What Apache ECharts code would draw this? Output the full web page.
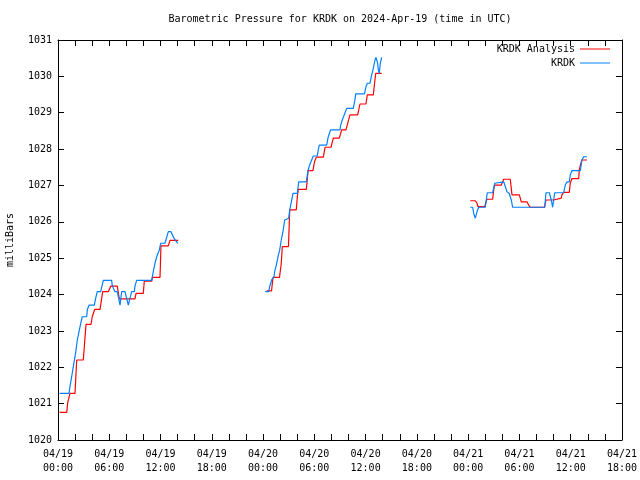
<!DOCTYPE html>
<html><head><meta charset="utf-8">
<script src="https://cdn.jsdelivr.net/npm/echarts@6/dist/echarts.min.js"></script>
<style>html,body{margin:0;padding:0;background:#fff}#c{width:640px;height:480px}</style>
</head><body><div id="c"></div>
<script>
const chartTitle = 'Barometric Pressure for KRDK on 2024-Apr-19 (time in UTC)';
const yAxisTitle = 'milliBars';
const seriesNames = ['KRDK Analysis', 'KRDK'];
// hours since 04/19 00:00 UTC
const xTickLabels = ['04/19\n00:00','04/19\n06:00','04/19\n12:00','04/19\n18:00',
  '04/20\n00:00','04/20\n06:00','04/20\n12:00','04/20\n18:00',
  '04/21\n00:00','04/21\n06:00','04/21\n12:00','04/21\n18:00'];
const yTickMin = 1020, yTickMax = 1031;

const analysisTimes = [
  0.18,1.02,1.14,1.29,1.40,1.99,2.19,2.96,3.28,3.86,4.01,4.18,4.29,4.92,5.23,5.89,6.17,6.94,7.17,9.01,9.13,9.98,10.10,10.97,11.04,11.94,12.05,12.91,13.11,14.08,
  20,
  24.42,24.99,25.16,25.92,26.13,26.25,26.97,27.12,27.89,28.01,28.12,29.06,29.17,29.26,29.84,30.02,30.23,31.05,31.25,31.95,32.22,32.92,33.20,33.70,34.17,35.07,35.34,36.04,36.20,36.90,37.04,37.18,37.88,
  44,
  48.25,48.84,49.04,49.15,49.94,50.09,50.21,50.87,50.99,51.11,51.88,52.04,52.16,52.93,53.05,53.13,53.99,54.10,54.22,54.89,55.08,55.27,56.96,57.03,57.11,58.01,58.20,58.90,58.98,59.18,59.84,59.95,60.15,60.94,61.01,61.17,61.32,61.91
];
const analysisValues = [
  1020.76,1020.76,1021.03,1021.03,1021.28,1021.28,1022.20,1022.20,1023.18,1023.18,1023.39,1023.39,1023.59,1023.59,1024.08,1024.08,1024.23,1024.23,1023.88,1023.88,1024.03,1024.03,1024.37,1024.37,1024.47,1024.47,1025.34,1025.34,1025.49,1025.49,
  null,
  1024.10,1024.10,1024.47,1024.47,1024.86,1025.32,1025.32,1026.33,1026.33,1026.69,1026.89,1026.89,1027.15,1027.41,1027.41,1027.65,1027.78,1027.78,1028.05,1028.05,1028.30,1028.30,1028.53,1028.53,1028.94,1028.94,1029.24,1029.24,1029.49,1029.49,1029.79,1030.08,1030.08,
  null,
  1026.58,1026.58,1026.51,1026.42,1026.42,1026.55,1026.62,1026.62,1026.88,1027.01,1027.01,1027.10,1027.17,1027.17,1026.92,1026.74,1026.74,1026.65,1026.55,1026.55,1026.46,1026.40,1026.40,1026.51,1026.60,1026.60,1026.65,1026.65,1026.74,1026.81,1026.81,1027.06,1027.19,1027.19,1027.43,1027.59,1027.70,1027.70
];
const obsTimes = [
  0.18,1.29,1.40,1.60,1.79,1.99,2.11,2.26,2.46,2.66,2.84,3.36,3.43,3.63,4.25,4.41,4.60,5.00,5.30,6.28,6.35,6.55,6.67,6.94,7.26,7.45,7.84,8.23,8.62,8.93,9.01,9.21,10.97,11.15,11.35,11.55,11.85,12.02,12.52,12.91,13.22,13.57,14.01,
  20,
  24.26,24.66,24.77,25.04,25.28,25.36,25.55,25.75,25.94,26.13,26.33,26.53,26.60,27.00,27.12,27.31,27.50,28.01,28.17,29.06,29.26,29.45,29.88,30.34,30.46,30.58,31.44,31.63,31.91,33.00,33.08,33.27,33.50,33.79,34.56,34.75,34.84,35.87,36.04,36.20,36.51,36.71,36.90,37.10,37.21,37.41,37.49,37.60,37.72,37.88,
  44,
  48.25,48.53,48.65,48.84,49.04,49.23,50.01,50.09,50.24,50.87,51.11,51.18,52.16,52.35,52.54,52.81,53.05,53.21,56.96,57.11,57.50,57.73,57.89,58.13,59.18,59.37,59.57,59.84,59.95,60.15,61.13,61.32,61.52,61.91
];
const obsValues = [
  1021.28,1021.28,1021.47,1021.74,1022.02,1022.29,1022.48,1022.75,1022.98,1023.21,1023.39,1023.39,1023.58,1023.71,1023.71,1023.90,1024.08,1024.08,1024.39,1024.39,1024.24,1024.24,1024.08,1024.08,1023.71,1024.08,1024.08,1023.71,1024.08,1024.08,1024.24,1024.39,1024.39,1024.63,1024.86,1025.04,1025.22,1025.41,1025.41,1025.73,1025.73,1025.55,1025.41,
  null,
  1024.08,1024.08,1024.22,1024.42,1024.49,1024.63,1024.81,1025.04,1025.22,1025.50,1025.73,1026.05,1026.10,1026.10,1026.33,1026.55,1026.78,1026.78,1027.10,1027.10,1027.41,1027.56,1027.81,1027.81,1027.98,1028.11,1028.11,1028.34,1028.53,1028.53,1028.66,1028.80,1028.85,1029.12,1029.12,1029.35,1029.52,1029.52,1029.71,1029.81,1029.81,1030.04,1030.22,1030.45,1030.52,1030.36,1030.18,1030.08,1030.36,1030.52,
  null,
  1026.40,1026.40,1026.23,1026.10,1026.28,1026.40,1026.40,1026.55,1026.80,1026.80,1027.06,1027.10,1027.10,1026.97,1026.83,1026.78,1026.60,1026.40,1026.40,1026.80,1026.80,1026.60,1026.40,1026.80,1026.80,1027.01,1027.10,1027.10,1027.29,1027.41,1027.41,1027.70,1027.79,1027.79
];

function pairs(t, v) { return t.map((x, i) => v[i] === null ? [x, '-'] : [x, v[i]]); }

const FONT = 'DejaVu Sans Mono';
const chart = echarts.init(document.getElementById('c'), null, { renderer: 'canvas' });
const tick = { show: true, inside: true, length: 6, lineStyle: { color: '#000', width: 1 } };
const line = { show: true, onZero: false, lineStyle: { color: '#000', width: 1 } };
const xMax = (xTickLabels.length - 1) * 6;

const legendBase = {
  orient: 'horizontal', align: 'right', icon: 'rect', itemWidth: 30, itemHeight: 1,
  padding: 0, itemGap: 0, selectedMode: false,
  textStyle: { fontFamily: FONT, fontSize: 10, color: '#000' }
};

chart.setOption({
  animation: false,
  backgroundColor: '#fff',
  grid: { left: 58, right: 18, top: 40, bottom: 40, show: false },
  xAxis: [
    { type: 'value', min: 0, max: xMax, interval: 2, axisLine: line, axisTick: tick, splitLine: { show: false },
      axisLabel: { color: '#000', fontFamily: FONT, fontSize: 10, lineHeight: 14, margin: 7,
        showMinLabel: true, showMaxLabel: true,
        formatter: v => (v % 6 === 0 ? xTickLabels[v / 6] : '') } },
    { type: 'value', position: 'top', min: 0, max: xMax, interval: 2, axisLine: line, axisTick: tick,
      splitLine: { show: false }, axisLabel: { show: false } }
  ],
  yAxis: [
    { type: 'value', min: yTickMin, max: yTickMax, interval: 1, axisLine: line, axisTick: tick, splitLine: { show: false },
      axisLabel: { color: '#000', fontFamily: FONT, fontSize: 10, margin: 6, showMinLabel: true, showMaxLabel: true,
        formatter: v => String(v) } },
    { type: 'value', position: 'right', min: yTickMin, max: yTickMax, interval: 1, axisLine: line, axisTick: tick,
      splitLine: { show: false }, axisLabel: { show: false } }
  ],
  legend: [
    Object.assign({}, legendBase, { data: [seriesNames[0]], right: 30, top: 44 }),
    Object.assign({}, legendBase, { data: [seriesNames[1]], right: 30, top: 58 })
  ],
  graphic: [
    { type: 'text', x: 340, y: 19, style: { text: chartTitle, font: '10px "DejaVu Sans Mono"', fill: '#000', align: 'center', verticalAlign: 'middle' } },
    { type: 'text', x: 10, y: 240, rotation: Math.PI / 2, style: { text: yAxisTitle, font: '10px "DejaVu Sans Mono"', fill: '#000', align: 'center', verticalAlign: 'middle' } }
  ],
  series: [
    { name: seriesNames[0], type: 'line', data: pairs(analysisTimes, analysisValues), symbol: 'none', connectNulls: false,
      color: '#ff0000', lineStyle: { color: '#ff0000', width: 1.2 } },
    { name: seriesNames[1], type: 'line', data: pairs(obsTimes, obsValues), symbol: 'none', connectNulls: false,
      color: '#0080ff', lineStyle: { color: '#0080ff', width: 1.2 } }
  ]
});
</script>
</body></html>
